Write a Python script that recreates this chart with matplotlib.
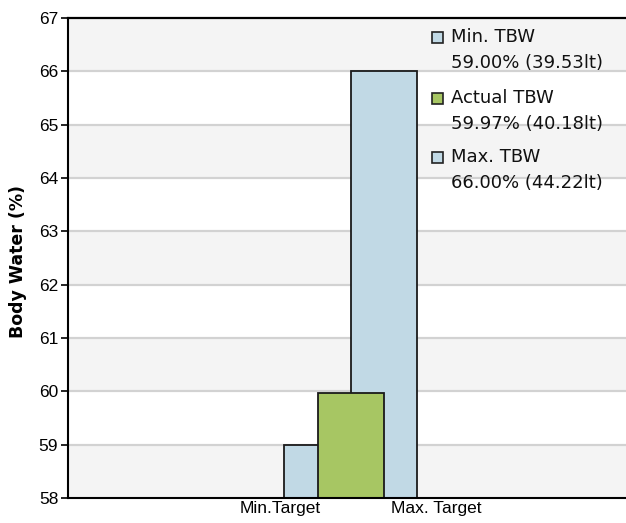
import matplotlib
matplotlib.use("Agg")
import matplotlib.pyplot as plt
from matplotlib.patches import Rectangle

# Series values (% body water) and litres
series_names = ["Min. TBW", "Actual TBW", "Max. TBW"]
series_values = [59.00, 59.97, 66.00]
series_litres = [39.53, 40.18, 44.22]
series_colors = ["#c1d9e5", "#a7c663", "#c1d9e5"]
bar_centers = [249, 283, 316]
bar_width = 66
draw_order = [1, 3, 2]

category_labels = ["Min.Target", "Max. Target"]
category_positions = [212, 368]

y_min, y_max = 58, 67
y_ticks = list(range(58, 68))

W, H = 626, 523
fig = plt.figure(figsize=(W / 100, H / 100), dpi=100)
ax = fig.add_axes([68 / W, 25 / H, (W - 68) / W, 480 / H])
ax.set_xlim(0, W - 68)
ax.set_ylim(y_min, y_max)

# alternating horizontal bands
for i, lo in enumerate(range(y_min, y_max)):
    ax.axhspan(lo, lo + 1, color="#f4f4f4" if i % 2 == 0 else "white", lw=0, zorder=0)
for y in y_ticks[1:-1]:
    ax.axhline(y, color="#d2d2d2", lw=1.6, zorder=0.5)
ax.axhline(y_max, color="black", lw=1.6, zorder=5, clip_on=False)

# bars
for c, v, col, z in zip(bar_centers, series_values, series_colors, draw_order):
    ax.bar(c, v - y_min, bottom=y_min, width=bar_width, color=col,
           edgecolor="#1a1a1a", linewidth=1.3, zorder=z)

for s in ["top", "right"]:
    ax.spines[s].set_visible(False)
for s in ["left", "bottom"]:
    ax.spines[s].set_linewidth(1.5)
    ax.spines[s].set_color("black")
    ax.spines[s].set_zorder(6)

ax.set_yticks(y_ticks)
ax.set_yticklabels([str(t) for t in y_ticks], fontfamily="Liberation Sans", fontsize=12.5)
ax.tick_params(axis="y", length=5, width=1.2, pad=2)
ax.set_xticks(category_positions)
ax.set_xticklabels(category_labels, fontfamily="Liberation Sans", fontsize=12.5)
ax.tick_params(axis="x", length=0, pad=2)

fig.text(18 / W, 1 - 262 / H, "Body Water (%)", rotation=90, ha="center", va="center",
         fontfamily="DejaVu Sans", fontweight="bold", fontsize=12.5)

# legend block
rows_y = [37, 98, 157]
for name, v, lt, col, yy in zip(series_names, series_values, series_litres, series_colors, rows_y):
    fig.patches.append(Rectangle(((432) / W, 1 - (yy + 6) / H), 11 / W, 11 / H,
                                 transform=fig.transFigure, facecolor=col,
                                 edgecolor="#222222", lw=1.2, zorder=10))
    fig.text(451 / W, 1 - yy / H, name, ha="left", va="center",
             fontfamily="DejaVu Sans", fontsize=13, color="#111111")
    fig.text(451 / W, 1 - (yy + 26) / H, f"{v:.2f}% ({lt:.2f}lt)", ha="left", va="center",
             fontfamily="DejaVu Sans", fontsize=13, color="#111111")

fig.savefig("out.png", dpi=100)
